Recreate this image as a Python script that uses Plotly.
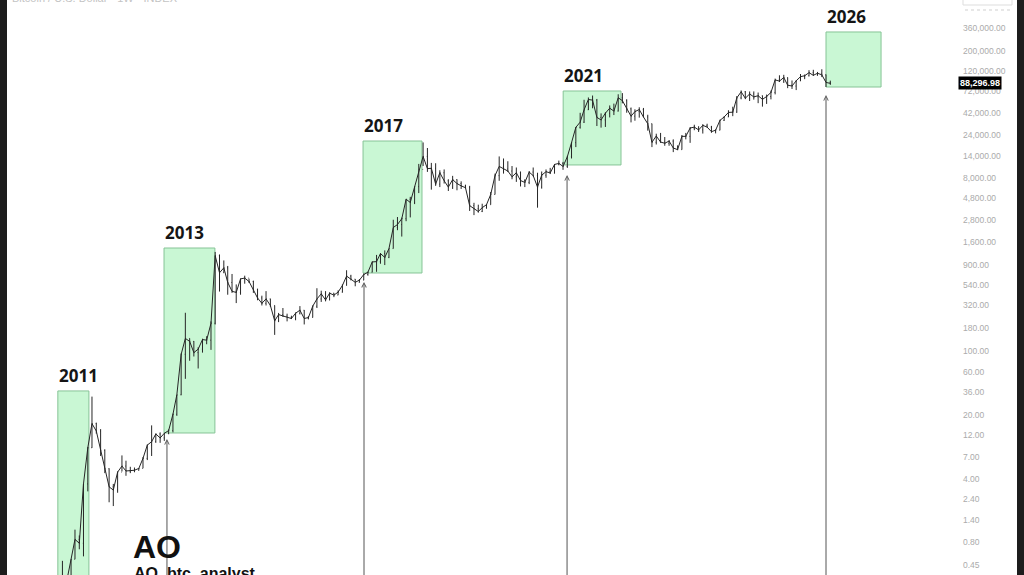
import math
from datetime import datetime, timedelta
import pandas as pd
import plotly.graph_objects as go

# ---------------- data (monthly) ----------------
start_month = "2010-07-15"
close = [
    0.07, 0.065, 0.062, 0.19, 0.21, 0.30,
    0.52, 0.86, 0.78, 3.50, 8.74, 16.1, 13.35, 8.2, 5.14, 3.25, 3.0, 4.72,
    5.5, 4.86, 4.9, 4.95, 5.18, 6.68, 9.35, 10.2, 12.4, 11.2, 12.6, 13.5,
    20.4, 33.4, 93, 139, 129, 97, 106, 135, 133, 204, 1129, 732,
    829, 573, 458, 445, 627, 640, 587, 480, 387, 338, 378, 320,
    217, 254, 244, 236, 230, 263, 284, 230, 236, 314, 377, 430,
    368, 437, 416, 448, 531, 673, 624, 575, 608, 700, 742, 963,
    970, 1190, 1080, 1350, 2300, 2480, 2875, 4700, 4340, 6470, 10000, 13900,
    10200, 10300, 6900, 9200, 7500, 6400, 7730, 7000, 6600, 6300, 4000, 3700,
    3450, 3800, 4100, 5300, 8550, 10800, 10100, 9600, 8300, 9200, 7550, 7200,
    9350, 8550, 6400, 8650, 9450, 9150, 11350, 11650, 10800, 13800, 19700, 29000,
    33100, 45200, 58800, 57700, 37300, 35000, 41500, 47100, 43800, 61300, 57000, 46300,
    38500, 43200, 45500, 37700, 31800, 19900, 23300, 20000, 19400, 20500, 17200, 16500,
    23100, 23100, 28500, 29200, 27200, 30500, 29200, 26000, 27000, 34600, 37700, 42300,
    42600, 61100, 71300, 60600, 67500, 62700, 64600, 58900, 63300, 70200, 96400, 93400,
    102400, 84300, 82500, 94200, 104600, 107100, 115700, 108200, 114000, 109600, 90400, 88296.98,
]
high = [
    0.10, 0.07, 0.17, 0.20, 0.50, 0.30,
    0.52, 1.10, 0.95, 3.50, 8.90, 31.9, 16.5, 14.0, 8.4, 5.2, 3.5, 4.8,
    7.2, 6.3, 5.4, 5.3, 5.2, 6.9, 9.5, 15.4, 12.5, 12.9, 12.7, 13.9,
    20.7, 33.4, 95, 266, 139, 130, 111, 138, 147, 214, 1240, 1163,
    1000, 870, 710, 545, 632, 680, 630, 600, 490, 410, 460, 380,
    320, 265, 300, 260, 247, 268, 315, 285, 245, 320, 495, 465,
    460, 446, 440, 468, 545, 780, 695, 625, 625, 720, 752, 975,
    1150, 1200, 1290, 1350, 2800, 3000, 2950, 4750, 5000, 6470, 11500, 19800,
    17200, 11800, 11700, 9800, 10000, 7800, 8500, 7800, 7400, 6800, 6600, 4300,
    4100, 4200, 4150, 5650, 9000, 13900, 13200, 12300, 10900, 10500, 9500, 7800,
    9600, 10500, 9200, 9500, 10000, 10400, 11450, 12500, 12100, 14100, 19900, 29300,
    41900, 58300, 61800, 64900, 59500, 41300, 42400, 50500, 52900, 67000, 69000, 59100,
    47900, 45800, 48200, 47400, 39900, 31900, 24700, 25200, 22700, 21000, 21400, 18400,
    23900, 25200, 29200, 31000, 29800, 31400, 31800, 30100, 27500, 35200, 38400, 44700,
    48900, 64000, 73800, 72700, 71900, 72000, 70000, 65000, 66500, 73600, 99600, 108300,
    109600, 102500, 95000, 95800, 111900, 110500, 123200, 124400, 117900, 126200, 110600, 94600,
]
low = [
    0.05, 0.06, 0.06, 0.06, 0.19, 0.19,
    0.26, 0.52, 0.67, 0.56, 2.9, 8.7, 12.5, 7.1, 4.6, 2.2, 2.0, 2.8,
    4.8, 4.3, 4.6, 4.7, 4.9, 5.2, 6.4, 7.1, 9.9, 9.9, 10.4, 12.3,
    12.9, 19.6, 33, 50, 79, 88, 65, 97, 120, 104, 198, 455,
    730, 420, 440, 340, 420, 555, 565, 440, 365, 320, 320, 310,
    152, 210, 240, 214, 227, 220, 255, 198, 225, 236, 300, 350,
    355, 365, 395, 415, 443, 530, 604, 520, 570, 606, 680, 740,
    750, 920, 890, 1060, 1350, 2150, 1830, 2700, 2970, 4160, 5500, 10900,
    9400, 6000, 6600, 6400, 7000, 5800, 6100, 5900, 6100, 6200, 3500, 3150,
    3350, 3400, 3700, 4100, 5300, 7500, 9000, 9400, 7800, 7300, 6500, 6400,
    6900, 8400, 3800, 6150, 8100, 8900, 9000, 11100, 9900, 10400, 13200, 17600,
    28100, 32400, 45000, 47000, 30000, 28800, 29300, 37300, 39600, 43300, 53300, 42000,
    32900, 34300, 37100, 37600, 26700, 17600, 18800, 19600, 18200, 18200, 15500, 16300,
    16500, 21400, 19600, 27000, 25800, 24800, 28900, 25300, 24900, 26900, 34100, 37600,
    38500, 41900, 59000, 59200, 56500, 58500, 53500, 49000, 52500, 58900, 66800, 91300,
    89200, 78200, 76600, 74500, 93400, 98200, 105100, 107300, 107300, 103500, 80600, 85000,
]

# cycle boxes
box_labels = ["2011", "2013", "2017", "2021", "2026"]
box_start = ["2010-11-12", "2012-12-13", "2016-11-10", "2020-10-16", "2025-12-15"]
box_end = ["2011-06-23", "2013-12-13", "2018-01-07", "2021-12-05", "2027-01-14"]
box_low = [0.2, 12.7, 728, 11200, 80500]
box_high = [36.8, 1370, 20530, 72800, 324000]

# arrows (date, tip price)
arrow_dates = ["2013-01-03", "2016-11-17", "2020-11-13", "2025-12-15"]
arrow_tips = [10.9, 580, 8690, 65800]

# right axis ticks
tick_vals = [0.45, 0.80, 1.40, 2.40, 4.00, 7.00, 12, 20, 36, 60, 100, 180, 320, 540, 900,
             1600, 2800, 4800, 8000, 14000, 24000, 42000, 72000, 120000, 200000, 360000]
tick_text = [f"{v:,.2f}" for v in tick_vals]

last_price_text = "88,296.98"

# ---------------- build ----------------
dates = pd.date_range(start_month, periods=len(close), freq="MS") + pd.Timedelta(days=14)
opens = [close[0]] + close[:-1]

W, H = 1024, 575
PLOT_W = 957


def dec_year(t):
    y = int(math.floor(t))
    d0 = datetime(y, 1, 1)
    d1 = datetime(y + 1, 1, 1)
    return d0 + (d1 - d0) * (t - y)


x_range = [dec_year(2009.728).strftime("%Y-%m-%d"), dec_year(2028.530).strftime("%Y-%m-%d")]
y_range = [-0.4567, 5.862]

fig = go.Figure()

fig.add_trace(go.Ohlc(
    x=dates, open=opens, high=high, low=low, close=close,
    increasing=dict(line=dict(color="#262626", width=1)),
    decreasing=dict(line=dict(color="#262626", width=1)),
    tickwidth=0.15, hoverinfo="skip", showlegend=False,
))
fig.add_trace(go.Scatter(
    x=dates, y=close, mode="lines",
    line=dict(color="#262626", width=1), hoverinfo="skip", showlegend=False,
))

shapes = []
annotations = []
for lab, s, e, lo, hi in zip(box_labels, box_start, box_end, box_low, box_high):
    shapes.append(dict(type="rect", xref="x", yref="y", x0=s, x1=e, y0=lo, y1=hi,
                       fillcolor="#c9f7d4", line=dict(color="#86c396", width=1),
                       layer="below"))
    annotations.append(dict(x=s, y=math.log10(hi), xref="x", yref="y",
                            text=f"<b>{lab}</b>", showarrow=False, yanchor="bottom",
                            xanchor="left", xshift=-1, yshift=2,
                            font=dict(family="Open Sans", size=17, color="#151515")))

for d, tip in zip(arrow_dates, arrow_tips):
    annotations.append(dict(x=d, y=math.log10(tip), xref="x", yref="y",
                            ax=d, ay=math.log10(0.12), axref="x", ayref="y",
                            showarrow=True, arrowhead=5, arrowsize=0.9, arrowwidth=1,
                            arrowcolor="#555555", standoff=0, text=""))

# last price label
annotations.append(dict(x=1.0, y=math.log10(close[-1]), xref="paper", yref="y",
                        xanchor="left", yanchor="middle", xshift=1,
                        text=f"<b>{last_price_text}</b>", showarrow=False,
                        bgcolor="#000000", borderpad=1,
                        font=dict(family="Liberation Sans", size=9, color="#ffffff")))

# watermark text
annotations.append(dict(x=131 / PLOT_W, y=1 - 547 / H, xref="paper", yref="paper",
                        xanchor="left", yanchor="middle", text="<b>AO</b>", showarrow=False,
                        font=dict(family="Liberation Sans", size=32, color="#111111")))
annotations.append(dict(x=132 / PLOT_W, y=1 - 573 / H, xref="paper", yref="paper",
                        xanchor="left", yanchor="middle", text="<b>AO_btc_analyst</b>",
                        showarrow=False,
                        font=dict(family="Liberation Sans", size=16, color="#111111")))
# faint header text at very top (cropped)
annotations.append(dict(x=10 / PLOT_W, y=1 - (-2) / H, xref="paper", yref="paper",
                        xanchor="left", yanchor="middle",
                        text="Bitcoin / U.S. Dollar · 1W · INDEX", showarrow=False,
                        font=dict(family="Liberation Sans", size=11, color="#c4c4c4")))

# side dark bars and small top-right widget
shapes.append(dict(type="rect", xref="paper", yref="paper", x0=0, x1=7 / PLOT_W,
                   y0=0, y1=1, fillcolor="#1d1d1d", line=dict(width=0), layer="above"))
shapes.append(dict(type="rect", xref="paper", yref="paper", x0=1017 / PLOT_W, x1=1030 / PLOT_W,
                   y0=-0.01, y1=1.01, fillcolor="#1d1d1d", line=dict(width=0), layer="above"))
shapes.append(dict(type="rect", xref="paper", yref="paper", x0=963 / PLOT_W, x1=1012 / PLOT_W,
                   y0=1 - 5 / H, y1=1 + 8 / H, fillcolor="rgba(0,0,0,0)",
                   line=dict(color="#dddddd", width=1), layer="above"))
shapes.append(dict(type="line", xref="paper", yref="paper", x0=965 / PLOT_W, x1=1010 / PLOT_W,
                   y0=1 - 10 / H, y1=1 - 10 / H,
                   line=dict(color="#cfcfcf", width=1, dash="dot"), layer="above"))

fig.update_layout(
    width=W, height=H,
    margin=dict(l=0, r=W - PLOT_W, t=0, b=0),
    paper_bgcolor="#ffffff", plot_bgcolor="#ffffff",
    showlegend=False,
    shapes=shapes, annotations=annotations,
    xaxis=dict(type="date", range=x_range, showgrid=False, zeroline=False,
               showticklabels=False, ticks="", showline=False,
               rangeslider=dict(visible=False), fixedrange=True),
    yaxis=dict(type="log", range=y_range, side="right", showgrid=False, zeroline=False,
               tickvals=tick_vals, ticktext=tick_text, ticks="", showline=False,
               ticklabelstandoff=5,
               tickfont=dict(family="Liberation Sans", size=8.5, color="#ababab"),
               fixedrange=True),
)

fig.write_html(
    "out.html",
    config={"displayModeBar": False},
    post_script="document.body.style.margin='0';document.body.style.overflow='hidden';",
)
